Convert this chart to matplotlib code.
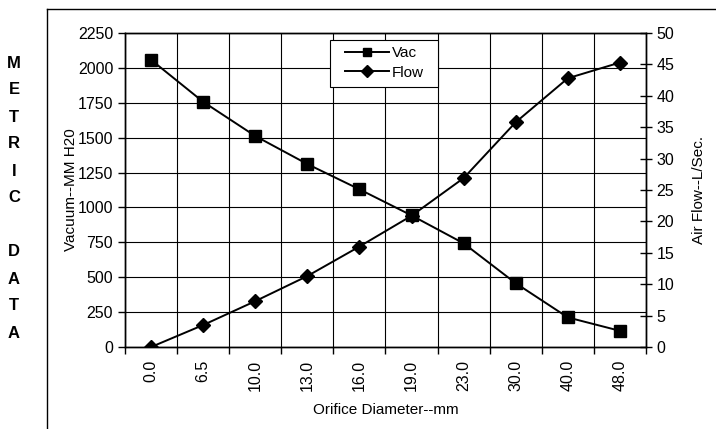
import matplotlib.pyplot as plt
from matplotlib.lines import Line2D
from matplotlib.patches import Rectangle

plt.rcParams['font.family'] = ['Liberation Sans', 'DejaVu Sans']

diameters = ['0.0', '6.5', '10.0', '13.0', '16.0', '19.0', '23.0', '30.0', '40.0', '48.0']
vac = [2058, 1757, 1512, 1311, 1130, 943, 743, 457, 212, 116]
flow = [0.0, 3.5, 7.3, 11.3, 16.0, 20.9, 26.9, 35.8, 42.8, 45.3]
side_text = ['M', 'E', 'T', 'R', 'I', 'C', '', 'D', 'A', 'T', 'A']

fig = plt.figure(figsize=(7.16, 4.29), dpi=100)
ax = fig.add_axes([0.1746, 0.1911, 0.7276, 0.7319])
ax2 = ax.twinx()

x = list(range(len(diameters)))
l1, = ax.plot(x, vac, color='black', lw=1.4, marker='s', markersize=8.5, label='Vac')
l2, = ax2.plot(x, flow, color='black', lw=1.4, marker='D', markersize=7.5, label='Flow')

ax.set_xlim(-0.5, len(diameters) - 0.5)
ax.set_ylim(0, 2250)
ax.set_yticks(range(0, 2251, 250))
ax2.set_ylim(0, 50)
ax2.set_yticks(range(0, 51, 5))

# category labels at centres, ticks and grid at boundaries
ax.set_xticks(x)
ax.set_xticklabels(diameters, rotation=90, fontsize=11.5)
ax.set_xticks([i - 0.5 for i in range(len(diameters) + 1)], minor=True)
ax.tick_params(axis='x', which='major', length=0, pad=9)
ax.tick_params(axis='x', which='minor', length=5, direction='out', width=1)
ax.grid(True, which='minor', axis='x', color='black', lw=0.8)
ax.grid(True, which='major', axis='y', color='black', lw=0.8)
ax.tick_params(axis='y', labelsize=11.5, length=5, width=1, direction='out')
ax2.tick_params(axis='y', labelsize=11.5, length=8, width=1, direction='inout')

for a in (ax, ax2):
    for s in a.spines.values():
        s.set_linewidth(1)

ax.set_xlabel('Orifice Diameter--mm', fontsize=11, labelpad=9)
ax.set_ylabel('Vacuum--MM H20', fontsize=11, labelpad=0)
ax2.set_ylabel('Air Flow--L/Sec.', fontsize=11, labelpad=13)

# legend box drawn separately so the padding matches
ax2.add_patch(Rectangle((0.3935, 0.828), 0.2073, 0.1497, transform=ax2.transAxes,
                        facecolor='white', edgecolor='black', lw=0.8, zorder=4))
leg = ax2.legend(handles=[l1, l2], loc='upper left', bbox_to_anchor=(0.4223, 0.9573),
                 fontsize=11, frameon=False, borderpad=0, borderaxespad=0,
                 handlelength=2.88, handletextpad=0.2, labelspacing=0.35,
                 markerscale=0.75)
leg.set_zorder(5)

# outer frame (open to the right and bottom)
fig.add_artist(Line2D([47 / 716, 47 / 716], [0, 1 - 9 / 429], color='black', lw=1,
                      transform=fig.transFigure))
fig.add_artist(Line2D([47 / 716, 1], [1 - 9 / 429, 1 - 9 / 429], color='black', lw=1,
                      transform=fig.transFigure))

for i, ch in enumerate(side_text):
    fig.text(14 / 716, 1 - (63 + i * 27) / 429, ch, fontsize=12, fontweight='bold',
             ha='center', va='center')

fig.savefig('out.png', dpi=100)
